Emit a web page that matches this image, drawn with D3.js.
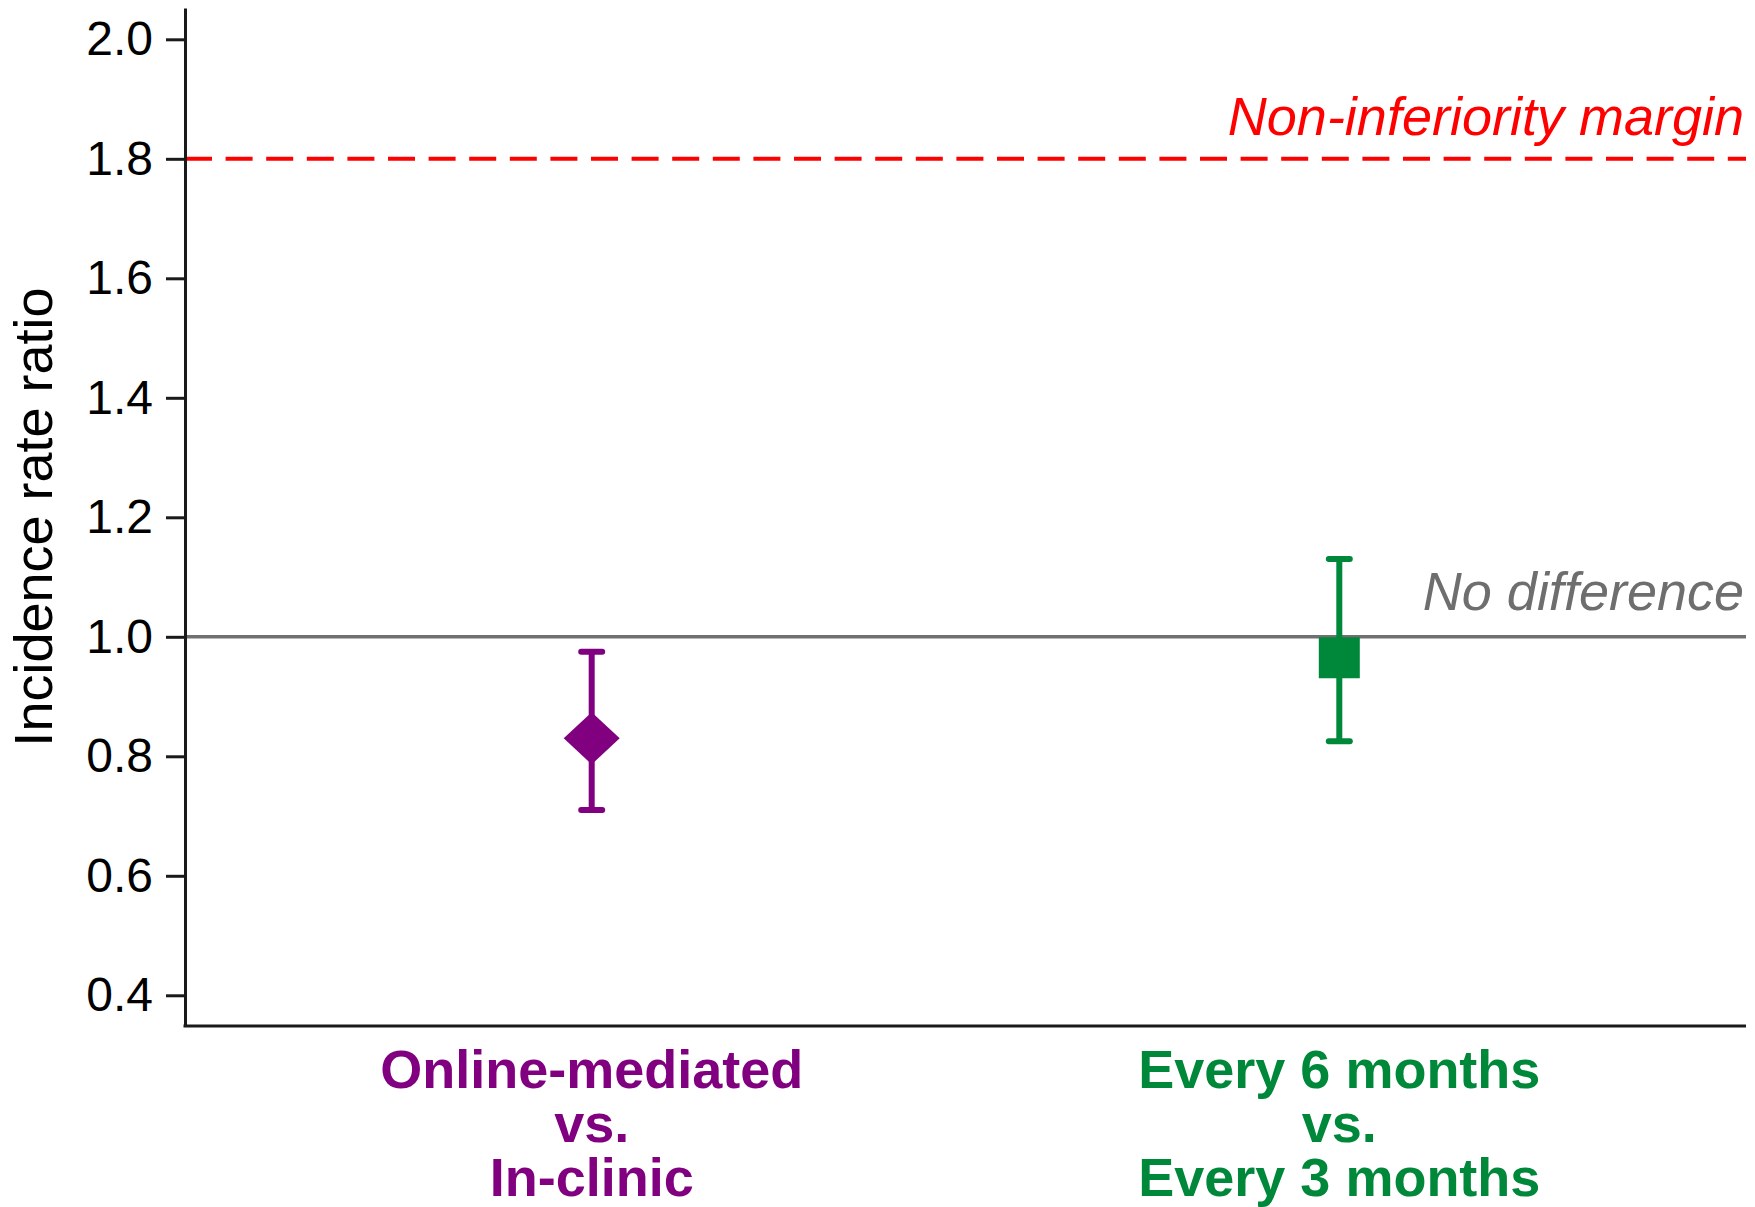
<!DOCTYPE html>
<html>
<head>
<meta charset="utf-8">
<script src="https://cdn.jsdelivr.net/npm/d3@7"></script>
<style>
  html, body { margin: 0; padding: 0; background: #fff; }
  svg { display: block; font-family: "Liberation Sans", Arial, sans-serif; }
</style>
</head>
<body>
<svg id="chart" width="1755" height="1207"></svg>
<script>
// Comparisons and their incidence rate ratios with 95% CI
const categories = ["online", "frequency"];
const labelLines = [
  ["Online-mediated", "vs.", "In-clinic"],
  ["Every 6 months", "vs.", "Every 3 months"]
];
const estimates = [0.83, 0.965];
const lowerCI = [0.71, 0.825];
const upperCI = [0.975, 1.13];
const markerShapes = ["diamond", "square"];
const colors = ["#800080", "#00883a"];
const yTicks = [0.4, 0.6, 0.8, 1.0, 1.2, 1.4, 1.6, 1.8, 2.0];
const referenceValue = 1.0;
const marginValue = 1.8;

const plotLeft = 185, plotRight = 1746, plotTop = 8, plotBottom = 1026;

const svg = d3.select("#chart");

const x = d3.scalePoint().domain(categories).range([plotLeft, plotRight]).padding(0.544);
const y = d3.scaleLinear().domain([0.3486, 2.0524]).range([plotBottom, plotTop]);

// Reference lines
svg.append("line")
  .attr("x1", plotLeft).attr("x2", plotRight)
  .attr("y1", y(referenceValue)).attr("y2", y(referenceValue))
  .attr("stroke", "#707070").attr("stroke-width", 3.5);

svg.append("line")
  .attr("x1", plotLeft).attr("x2", plotRight)
  .attr("y1", y(marginValue)).attr("y2", y(marginValue))
  .attr("stroke", "#ff0000").attr("stroke-width", 4)
  .attr("stroke-dasharray", "27,13.6");

svg.append("text")
  .attr("x", 1744).attr("y", 135)
  .attr("text-anchor", "end")
  .attr("font-size", 54).attr("font-style", "italic")
  .attr("fill", "#ff0000")
  .text("Non-inferiority margin");

svg.append("text")
  .attr("x", 1744).attr("y", 610)
  .attr("text-anchor", "end")
  .attr("font-size", 54).attr("font-style", "italic")
  .attr("fill", "#6e6e6e")
  .text("No difference");

// Axes
const yAxis = d3.axisLeft(y).tickValues(yTicks).tickFormat(d3.format(".1f"))
  .tickSize(19).tickPadding(13).tickSizeOuter(0);
const gy = svg.append("g").attr("transform", `translate(${plotLeft},0)`).call(yAxis);
gy.select(".domain").attr("stroke", "#1a1a1a").attr("stroke-width", 3);
gy.selectAll(".tick line").attr("stroke", "#1a1a1a").attr("stroke-width", 3);
gy.selectAll(".tick text").attr("font-size", 48).attr("fill", "#000")
  .attr("font-family", "'Liberation Sans', Arial, sans-serif");

svg.append("line")
  .attr("x1", plotLeft - 1.5).attr("x2", plotRight)
  .attr("y1", plotBottom).attr("y2", plotBottom)
  .attr("stroke", "#1a1a1a").attr("stroke-width", 3);

// Y-axis title
svg.append("text")
  .attr("transform", `translate(52,517) rotate(-90)`)
  .attr("text-anchor", "middle")
  .attr("font-size", 54).attr("fill", "#000")
  .text("Incidence rate ratio");

// Error bars and point estimates
const capHalf = 10.5;
const barWidth = 6;
const groups = svg.selectAll("g.est").data(categories).join("g").attr("class", "est");

groups.append("line")
  .attr("x1", d => x(d)).attr("x2", d => x(d))
  .attr("y1", (d, i) => y(lowerCI[i])).attr("y2", (d, i) => y(upperCI[i]))
  .attr("stroke", (d, i) => colors[i]).attr("stroke-width", barWidth);

[upperCI, lowerCI].forEach(bound => {
  groups.append("line")
    .attr("x1", d => x(d) - capHalf).attr("x2", d => x(d) + capHalf)
    .attr("y1", (d, i) => y(bound[i])).attr("y2", (d, i) => y(bound[i]))
    .attr("stroke", (d, i) => colors[i]).attr("stroke-width", barWidth)
    .attr("stroke-linecap", "round");
});

groups.append("path")
  .attr("d", (d, i) => {
    const cx = x(d), cy = y(estimates[i]);
    if (markerShapes[i] === "diamond") {
      const hw = 28, hh = 26;
      return `M${cx},${cy - hh}L${cx + hw},${cy}L${cx},${cy + hh}L${cx - hw},${cy}Z`;
    }
    const s = 20.5;
    return `M${cx - s},${cy - s}H${cx + s}V${cy + s}H${cx - s}Z`;
  })
  .attr("fill", (d, i) => colors[i]);

// Category labels, one text per line
categories.forEach((c, i) => {
  labelLines[i].forEach((s, k) => {
    svg.append("text")
      .attr("class", "cat")
      .attr("x", x(c)).attr("y", 1088 + k * 54)
      .attr("text-anchor", "middle")
      .attr("font-size", 54).attr("font-weight", "bold")
      .attr("fill", colors[i])
      .text(s);
  });
});
</script>
</body>
</html>
